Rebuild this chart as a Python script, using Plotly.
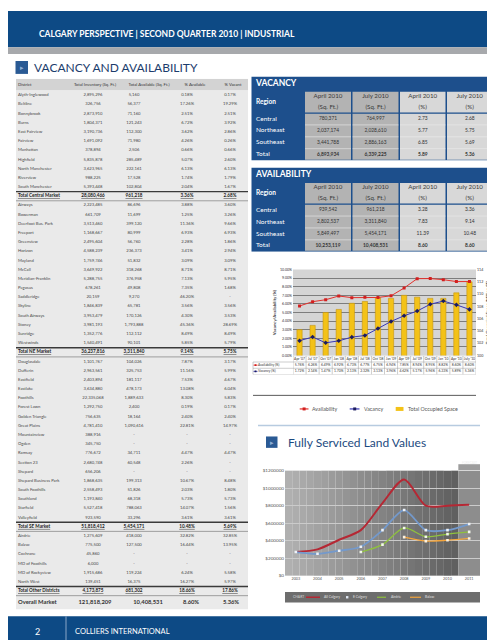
import plotly.graph_objects as go

# ---------------- DATA ----------------
district_names = [
    "Alyth-Inglewood", "Beltline", "Bonnybrook", "Burns", "East Fairview", "Fairview", "Manhattan",
    "Highfield", "North Manchester", "Riverview", "South Manchester", "Total Central Market",
    "Airways", "Bowerman", "Deerfoot Bus. Park", "Freeport", "Greenview", "Horizon", "Mayland", "McCall",
    "Meridian-Franklin", "Pegasus", "Saddleridge", "Skyline", "South Airways", "Stoney", "Sunridge",
    "Westwinds", "Total NE Market",
    "Douglasdale", "Dufferin", "Eastfield", "Eastlake", "Foothills", "Forest Lawn", "Golden Triangle",
    "Great Plains", "Mountainview", "Ogden", "Ramsay", "Section 23", "Shepard", "Shepard Business Park",
    "South Foothills", "Southland", "Starfield", "Valleyfield", "Total SE Market",
    "Airdrie", "Balzac", "Cochrane", "MD of Foothills", "MD of Rockyview", "North West", "Total Other Districts",
]
total_inventory = [
    2895296, 326756, 2873910, 1804371, 3190736, 1691092, 378894, 5835878, 3623965, 988225, 5393448, 28080466,
    2223485, 661709, 3513460, 1168667, 2495604, 4588239, 1759746, 3649922, 5288755, 678261, 20159, 1846839,
    3953479, 3981193, 1352776, 1540491, 36237816,
    1101767, 2963561, 2403894, 3634880, 22335068, 1292750, 756635, 4781410, 388916, 345750, 776672, 2680748,
    656206, 1868635, 2558493, 1193840, 5527418, 923590, 51818412,
    1275609, 775500, 45860, 6000, 1915686, 139451, 4173875,
]
total_available = [
    5160, 56377, 71160, 121243, 112300, 71980, 2506, 285489, 222161, 17528, 102804, 961218,
    86696, 11699, 399120, 80999, 56760, 236373, 51832, 318268, 376958, 49808, 9270, 65781, 170126, 1793888,
    112112, 90101, 3311840,
    104026, 325753, 181117, 478173, 1889633, 2400, 18164, 1090616, None, None, 34711, 60548, None, 199313,
    51826, 68318, 788063, 33296, 5454171,
    418000, 127500, None, None, 119224, 16375, 681302,
]
pct_available = [
    0.18, 17.26, 2.51, 6.72, 3.62, 4.26, 0.66, 5.07, 6.13, 1.74, 2.04, 3.36,
    3.88, 1.25, 11.36, 6.93, 2.28, 3.41, 3.09, 8.71, 7.13, 7.35, 46.20, 3.56, 4.30, 45.36, 8.49, 5.85, 9.14,
    7.87, 11.16, 7.53, 13.08, 8.30, 0.19, 2.40, 22.81, None, None, 4.47, 2.26, None, 10.67, 2.03, 5.73,
    14.07, 3.61, 10.48,
    32.82, 16.44, None, None, 6.24, 16.27, 18.66,
]
pct_vacant = [
    0.17, 19.29, 2.51, 3.92, 2.86, 0.26, 0.66, 2.60, 6.13, 1.79, 1.67, 2.68,
    3.60, 3.26, 9.66, 6.93, 1.86, 2.94, 3.09, 8.71, 5.95, 1.68, None, 3.56, 3.53, 28.69, 8.49, 5.79, 5.75,
    3.17, 5.99, 4.67, 6.04, 5.83, 0.17, 2.40, 14.97, None, None, 4.47, None, None, 8.48, 1.80, 5.73,
    1.56, 3.61, 5.69,
    32.85, 13.95, None, None, 5.58, 5.97, 17.86,
]
table_headers = ["District", "Total Inventory (Sq. Ft.)", "Total Available (Sq. Ft.)", "% Available", "% Vacant"]
overall_row = ["Overall Market", "121,818,209", "10,408,531", "8.60%", "5.36%"]

regions = ["Central", "Northeast", "Southeast", "Total"]
period_labels = ["April 2010", "July 2010", "April 2010", "July 2010"]
unit_labels = ["(Sq. Ft.)", "(Sq. Ft.)", "(%)", "(%)"]
vac_apr_sf = [780371, 2037174, 3441788, 6893934]
vac_jul_sf = [764997, 2028610, 2886163, 6339225]
vac_apr_pct = [2.73, 5.77, 6.85, 5.89]
vac_jul_pct = [2.68, 5.75, 5.69, 5.36]
avl_apr_sf = [939542, 2802537, 5849497, 10253119]
avl_jul_sf = [961218, 3311840, 5454171, 10408531]
avl_apr_pct = [3.28, 7.83, 11.39, 8.60]
avl_jul_pct = [3.36, 9.14, 10.48, 8.60]

months = ["Apr '07", "Jul '07", "Oct '07", "Jan '08", "Apr '08", "Jul '08", "Oct '08", "Jan '09",
          "Apr '09", "Jul '09", "Oct '09", "Jan '10", "Apr '10", "July '10"]
availability_pct = [5.76, 6.26, 6.49, 6.92, 6.73, 6.77, 6.75, 6.94, 7.85, 8.94, 8.95, 8.82, 8.60, 8.60]
vacancy_pct = [1.72, 2.14, 1.47, 1.70, 2.13, 2.32, 3.13, 3.96, 4.62, 5.17, 5.96, 6.33, 5.89, 5.36]
occupied_msf = [104.2, 104.9, 107.0, 107.5, 108.5, 108.8, 109.4, 109.3, 109.8, 109.5, 109.3, 109.3, 110.2, 112.0]

land_years = [2003, 2004, 2005, 2006, 2007, 2008, 2009, 2010, 2011]
land_all_calgary = [270000, 300000, 410000, 520000, 830000, 1100000, 800000, 800000, 810000]
land_e_calgary = [270000, 250000, 285000, 330000, 520000, 750000, 520000, 520000, 590000]
land_airdrie = [None, None, None, 270000, 355000, 545000, 445000, 475000, 500000]
land_balzac = [None, None, None, None, None, 440000, 395000, 405000, 425000]
land_names = ["All Calgary", "E Calgary", "Airdrie", "Balzac"]

# ---------------- STYLE ----------------
W, H = 495, 640
FONT = "Lato, 'Open Sans', sans-serif"
NAVY = "#0d4a85"
TBL_BLUE = "#1d4f8c"
TXT = "#474747"


def fx(x):
    return x / W


def fy(y):
    return 1 - y / H


fig = go.Figure()
shapes = []
anns = []


def prect(x0, y0, x1, y1, fill, layer="below"):
    shapes.append(dict(type="rect", xref="paper", yref="paper", x0=fx(x0), x1=fx(x1), y0=fy(y1), y1=fy(y0),
                       fillcolor=fill, line=dict(width=0), layer=layer))


def pline(x0, y0, x1, y1, color, lw=1, layer="above"):
    shapes.append(dict(type="line", xref="paper", yref="paper", x0=fx(x0), x1=fx(x1), y0=fy(y0), y1=fy(y1),
                       line=dict(color=color, width=lw), layer=layer))


def ptext(x, y, text, size, color, xanchor="left"):
    anns.append(dict(xref="paper", yref="paper", x=fx(x), y=fy(y), text=text, showarrow=False,
                     xanchor=xanchor, yanchor="middle", font=dict(size=size, color=color, family=FONT)))


def arect(xref, yref, x0, y0, x1, y1, fill, layer="below"):
    shapes.append(dict(type="rect", xref=xref, yref=yref, x0=x0, x1=x1, y0=y0, y1=y1,
                       fillcolor=fill, line=dict(width=0), layer=layer))


def aline(xref, yref, x0, y0, x1, y1, color, lw=1, layer="above"):
    shapes.append(dict(type="line", xref=xref, yref=yref, x0=x0, x1=x1, y0=y0, y1=y1,
                       line=dict(color=color, width=lw), layer=layer))


def text_trace(x, y, text, size, color, pos="middle center", xaxis="x4", yaxis="y4"):
    fig.add_trace(go.Scatter(x=x, y=y, text=text, mode="text", textposition=pos,
                             textfont=dict(size=size, color=color, family=FONT),
                             xaxis=xaxis, yaxis=yaxis, hoverinfo="skip", showlegend=False, cliponaxis=False))


def fmt_int(v):
    return "-" if v is None else f"{v:,}"


def fmt_pct(v):
    return "-" if v is None else f"{v:.2f}%"


# ---------------- PAGE FRAME ----------------
prect(0, 0, 495, 36.7, NAVY)
prect(0, 36.7, 495, 43.5, "#a7a9ac")
ptext(29, 23.5, "<b>CALGARY PERSPECTIVE | SECOND QUARTER 2010 | INDUSTRIAL</b>", 8.5, "white")
prect(7.5, 50.5, 20, 63.5, "#2a5a94")
ptext(13.75, 57, "▸", 7, "#8fb0d6", "center")
ptext(24, 57.5, "VACANCY AND AVAILABILITY", 12, "#1c3c6c")
prect(0, 611, 495, 640, NAVY)
pline(58, 611, 58, 640, "#8aa6c8", 1)
ptext(29, 626, "2", 9, "white", "center")
ptext(65, 626, "COLLIERS INTERNATIONAL", 7.5, "white")

# ---------------- LEFT DISTRICT TABLE (y4) ----------------
arect("x4", "y4", 8, -1.8, 240, -0.5, "#d3d3d3")
arect("x4", "y4", 8, -0.5, 240, 56.0, "#eaeaea")
rows = list(range(len(district_names)))
is_total = [n.startswith("Total") for n in district_names]
for i in rows:
    if is_total[i]:
        aline("x4", "y4", 8, i - 0.5, 240, i - 0.5, "#3a3a3a", 1.4)
        aline("x4", "y4", 8, i + 0.5, 240, i + 0.5, "#8c8c8c", 0.8)


def cell(txt, tot):
    return f"<b><u>{txt}</u></b>" if tot else txt


sizes = [4.6 if t else 4.2 for t in is_total]
colors = ["#222" if t else TXT for t in is_total]
text_trace([10, 87, 141, 187, 225], [-1.15] * 5, table_headers, 4.2, "#333",
           pos=["middle right"] + ["middle center"] * 4)
text_trace([10] * len(rows), rows, [cell(n, t) for n, t in zip(district_names, is_total)], sizes, colors,
           pos="middle right")
text_trace([85] * len(rows), rows, [cell(fmt_int(v), t) for v, t in zip(total_inventory, is_total)], sizes, colors)
text_trace([126] * len(rows), rows, [cell(fmt_int(v), t) for v, t in zip(total_available, is_total)], sizes, colors)
text_trace([179] * len(rows), rows, [cell(fmt_pct(v), t) for v, t in zip(pct_available, is_total)], sizes, colors)
text_trace([222] * len(rows), rows, [cell(fmt_pct(v), t) for v, t in zip(pct_vacant, is_total)], sizes, colors)
text_trace([10, 87, 140, 183, 223], [55.3] * 5, [f"<b>{v}</b>" for v in overall_row], 5.8, "#333",
           pos=["middle right"] + ["middle center"] * 4)


# ---------------- RIGHT REGION TABLES (y5, y6) ----------------
def region_table(yaxis, title, c1, c2, c3, c4):
    arect("x4", yaxis, 243.5, -3.583, 486, 3.5, TBL_BLUE)
    col_x = [(297, 343), (344.5, 390.5), (392, 437.5), (439, 484.5)]
    col_fill = ["#b3b3b3", "#b3b3b3", "#d8d8d8", "#d8d8d8"]
    for (a, b), f in zip(col_x, col_fill):
        arect("x4", yaxis, a, -2.29, b, -0.55, f)
        arect("x4", yaxis, a, -0.45, b, 3.42, f)
        for k in (0.5, 1.5, 2.5):
            aline("x4", yaxis, a, k, b, k, "#ececec", 0.6)
    centers = [(a + b) / 2 for a, b in col_x]
    text_trace([248], [-2.96], [f"<b>{title}</b>"], 8.5, "white", pos="middle right", yaxis=yaxis)
    text_trace([248], [-1.42], ["<b>Region</b>"], 6.5, "white", pos="middle right", yaxis=yaxis)
    text_trace(centers, [-1.92] * 4, period_labels, 6.2, "#3a3a3a", yaxis=yaxis)
    text_trace(centers, [-0.96] * 4, unit_labels, 6.2, "#3a3a3a", yaxis=yaxis)
    text_trace([248] * 4, [0, 1, 2, 3], regions, 6.5, "white", pos="middle right", yaxis=yaxis)
    cols = [[fmt_int(v) for v in c1], [fmt_int(v) for v in c2],
            [f"{v:.2f}" for v in c3], [f"{v:.2f}" for v in c4]]
    for cx, vals in zip(centers, cols):
        vals = vals[:3] + [f"<b>{vals[3]}</b>"]
        text_trace([cx] * 4, [0, 1, 2, 3], vals, 4.9, "#333", yaxis=yaxis)


region_table("y5", "VACANCY", vac_apr_sf, vac_jul_sf, vac_apr_pct, vac_jul_pct)
region_table("y6", "AVAILABILITY", avl_apr_sf, avl_jul_sf, avl_apr_pct, avl_jul_pct)

# ---------------- COMBO CHART (x, y, y2) ----------------
arect("x domain", "y domain", 0, 0, 1, 1, "#d5d5d5")
fig.add_trace(go.Bar(x=months, y=occupied_msf, xaxis="x", yaxis="y", width=0.4, name="Total Occupied Space",
                     marker=dict(color="#f3c218", line=dict(color="#c8960a", width=0.6)),
                     hoverinfo="skip", showlegend=False))
fig.add_trace(go.Scatter(x=months, y=availability_pct, xaxis="x", yaxis="y2", mode="lines+markers",
                         name="Availability", line=dict(color="#e3312d", width=1),
                         marker=dict(symbol="square", size=3, color="#d21f1f"), hoverinfo="skip",
                         showlegend=False))
fig.add_trace(go.Scatter(x=months, y=vacancy_pct, xaxis="x", yaxis="y2", mode="lines+markers",
                         name="Vacancy", line=dict(color="#3838b4", width=1),
                         marker=dict(symbol="diamond", size=3.5, color="#1c1c5e"), hoverinfo="skip",
                         showlegend=False))

# data table under the combo chart (y3)
text_trace(months, [0] * len(months), months, 3.4, "#333", xaxis="x", yaxis="y3")
text_trace(months, [1] * len(months), [fmt_pct(v) for v in availability_pct], 3.4, "#333", xaxis="x", yaxis="y3")
text_trace(months, [2] * len(months), [fmt_pct(v) for v in vacancy_pct], 3.4, "#333", xaxis="x", yaxis="y3")
text_trace([250, 250], [1, 2], ["Availability (%)", "Vacancy (%)"], 3.4, "#333", pos="middle right", yaxis="y3")
for i in range(len(months) + 1):
    aline("x", "y3", i - 0.5, -0.5, i - 0.5, 2.5, "#9a9a9a", 0.5)
aline("x4", "y3", 285, -0.5, 468, -0.5, "#9a9a9a", 0.5)
for k in (0.5, 1.5, 2.5):
    aline("x4", "y3", 245, k, 468, k, "#9a9a9a", 0.5)
aline("x4", "y3", 245, 0.5, 245, 2.5, "#9a9a9a", 0.5)
aline("x4", "y3", 245.5, 1, 249.5, 1, "#e3312d", 0.8)
arect("x4", "y3", 246.6, 0.85, 248.4, 1.15, "#d21f1f", layer="above")
aline("x4", "y3", 245.5, 2, 249.5, 2, "#3838b4", 0.8)
arect("x4", "y3", 246.6, 1.85, 248.4, 2.15, "#1c1c5e", layer="above")

# combo legend
pline(245, 388, 468, 388, "#5a5a5a", 1)
pline(291.7, 401.7, 300.5, 401.7, "#e3312d", 1.2)
prect(294.6, 400.2, 297.6, 403.2, "#d21f1f", layer="above")
ptext(302, 401.7, "Availability", 5.3, "#555")
pline(341.7, 401.7, 351.5, 401.7, "#3838b4", 1.2)
prect(345.2, 400.2, 348.2, 403.2, "#1c1c5e", layer="above")
ptext(354, 401.7, "Vacancy", 5.3, "#555")
prect(387.7, 399.7, 395.5, 403.7, "#f3c218", layer="above")
ptext(397.5, 401.7, "Total Occupied Space", 5.3, "#555")

# separator + heading for land values
pline(250, 418.3, 472, 418.3, "#b7cbe0", 1.5)
prect(258, 429.5, 269.5, 441, "#2a5a94")
ptext(263.75, 435.25, "▸", 7, "#8fb0d6", "center")
ptext(278, 435.5, "Fully Serviced Land Values", 12, "#1c4a80")

# ---------------- LAND VALUES CHART (x5, y7) ----------------
n_strips = 24
x_lo, x_hi = 2002.5, 2010.5
for s in range(n_strips):
    t = s / (n_strips - 1)
    g = int(round(176 - t * (176 - 96)))
    arect("x5", "y7 domain", x_lo + (x_hi - x_lo) * s / n_strips, 0,
          x_lo + (x_hi - x_lo) * (s + 1) / n_strips, 1, f"rgb({g},{g},{g})")
arect("x5", "y7 domain", 2010.5, 0, 2011.5, 1, "#8d8d8d")
arect("x5", "paper", 2010.5, fy(463.5), 2011.5, fy(457.5), "#9d9d9d")
anns.append(dict(xref="x5", yref="paper", x=2011, y=fy(460.5), text="FORECAST", showarrow=False,
                 font=dict(size=3, color="#eeeeee", family=FONT)))

series = [(land_all_calgary, "#b52834", 2.0, None), (land_e_calgary, "#7399cc", 1.8, "#eef2f8"),
          (land_airdrie, "#8fc13e", 1.3, "#f2f7ea"), (land_balzac, "#f4a53c", 1.3, "#fbf1e0")]
for (vals, col, lw, mcol), nm in zip(series, land_names):
    fig.add_trace(go.Scatter(x=land_years, y=vals, xaxis="x5", yaxis="y7", name=nm,
                             mode="lines+markers" if mcol else "lines",
                             line=dict(color=col, width=lw, shape="spline", smoothing=0.8),
                             marker=dict(symbol="square", size=2.6, color=mcol or col),
                             connectgaps=False, hoverinfo="skip", showlegend=False))

# land legend bar
prect(277, 586.5, 472, 597, "#6d6d6d")
ptext(283, 591.8, "CHART", 3.4, "#d8d8d8")
pline(298, 591.8, 312, 591.8, "#b52834", 1.5)
ptext(314, 591.8, land_names[0], 3.4, "#e0e0e0")
prect(338, 590.6, 340.4, 593, "#dfe7f3", layer="above")
ptext(343, 591.8, land_names[1], 3.4, "#e0e0e0")
pline(369, 591.8, 378, 591.8, "#8fc13e", 1.2)
ptext(381, 591.8, land_names[2], 3.4, "#e0e0e0")
pline(402, 591.8, 413, 591.8, "#f4a53c", 1.2)
ptext(415, 591.8, land_names[3], 3.4, "#e0e0e0")

# ---------------- LAYOUT ----------------
hidden = dict(visible=False, showgrid=False, zeroline=False)
fig.update_layout(
    width=W, height=H, margin=dict(l=0, r=0, t=0, b=0),
    paper_bgcolor="white", plot_bgcolor="rgba(0,0,0,0)",
    showlegend=False, hovermode=False,
    font=dict(family=FONT, color="#333"),
    shapes=shapes, annotations=anns, bargap=0.6,
    xaxis=dict(domain=[fx(285), fx(468)], anchor="y", type="category", range=[-0.5, 13.5],
               showticklabels=False, showgrid=False, zeroline=False, showline=False, ticks=""),
    yaxis=dict(domain=[fy(347.7), fy(261)], anchor="x", side="right", range=[100, 114], dtick=2,
               showgrid=False, zeroline=False, ticks="", tickfont=dict(size=3.6, color="#333"),
               title=dict(text="<b>Total Occupied Space (Million SF)</b>", font=dict(size=4.3, color="#333"),
                          standoff=3)),
    yaxis2=dict(overlaying="y", side="left", anchor="x", range=[0, 10], dtick=1, tickformat=".2f",
                ticksuffix="%", showgrid=True, gridcolor="#7d7d7d", gridwidth=0.6, zeroline=False, ticks="",
                tickfont=dict(size=3.6, color="#333"),
                title=dict(text="<b>Vacancy/Availability (%)</b>", font=dict(size=4.3, color="#333"), standoff=3)),
    yaxis3=dict(domain=[fy(367), fy(348)], anchor="x4", range=[2.5, -0.5], **hidden),
    xaxis4=dict(domain=[0, 1], anchor="y4", range=[0, W], **hidden),
    yaxis4=dict(domain=[fy(604.1), fy(68.3)], anchor="x4", range=[56.0, -1.8], **hidden),
    yaxis5=dict(domain=[fy(151), fy(66)], anchor="x4", range=[3.5, -3.583], **hidden),
    yaxis6=dict(domain=[fy(243), fy(158)], anchor="x4", range=[3.5, -3.583], **hidden),
    xaxis5=dict(domain=[fx(277), fx(472)], anchor="y7", range=[2002.5, 2011.5], dtick=1, tickformat="d",
                showgrid=False, zeroline=False, showline=False, ticks="",
                tickfont=dict(size=3.8, color="#555")),
    yaxis7=dict(domain=[fy(570), fy(464)], anchor="x5", range=[0, 1200000], dtick=200000, tickprefix="$",
                tickformat="d", showgrid=True, gridcolor="#cbcbcb", gridwidth=0.7, zeroline=False, ticks="",
                tickfont=dict(size=4.6, color="#555")),
)

fig.write_html("out.html")
